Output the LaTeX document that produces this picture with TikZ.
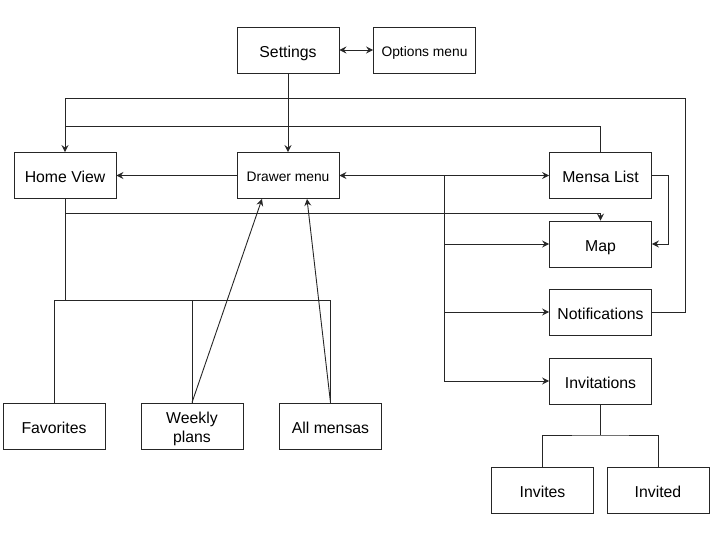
\documentclass[tikz,border=0pt]{standalone}
\usepackage{fontspec}
\setmainfont{Liberation Sans}
\usetikzlibrary{arrows.meta}

\begin{document}
\begin{tikzpicture}[x=1pt, y=-1pt,
    screen/.style={rectangle, draw=black!85, line width=0.9pt,
        minimum width=102pt, minimum height=46pt, inner sep=0pt,
        text centered, align=center, text=black,
        text height=14.6pt, text depth=0pt,
        font=\fontsize{15.8}{19}\selectfont},
    smallscreen/.style={screen, text height=13pt,
        font=\fontsize{13.8}{15}\selectfont},
    twoline/.style={screen, text height=, text depth=},
    link/.style={draw=black!85, line width=0.9pt,
        -{Stealth[length=7pt,width=7pt,inset=2.5pt]}},
    both/.style={link, {Stealth[length=7pt,width=7pt,inset=2.5pt]}-{Stealth[length=7pt,width=7pt,inset=2.5pt]}},
    tie/.style={draw=black!85, line width=0.9pt}]

\useasboundingbox (0,0) rectangle (720,540);

\node (settings) [screen] at (288,50) {Settings};
\node (optMenu) [smallscreen] at (424.5,50) {Options menu};
\node (homeView) [screen] at (65,175.5) {Home View};
\node (drawer) [smallscreen] at (288,175.5) {Drawer menu};
\node (mensaList) [screen] at (600.5,175.5) {Mensa List};
\node (map) [screen] at (600.5,244) {Map};
\node (notif) [screen] at (600.5,312) {Notifications};
\node (invitations) [screen] at (600.5,381) {Invitations};
\node (favorites) [screen] at (54,426) {Favorites};
\node (weekly) [twoline] at (192,426) {\rule{0pt}{17.5pt}Weekly\\plans};
\node (allMensas) [screen] at (330.5,426) {All mensas};
\node (invites) [screen] at (542.5,490) {Invites};
\node (invited) [screen] at (658,490) {Invited};

\coordinate (hub) at (444,175.5);

\draw [both] (settings) -- (optMenu);
\draw [link] (settings) -- (drawer);
\draw [link] (drawer) -- (homeView);

% loops back to the home view
\draw [link] (notif.east) -- ++(33,0) |- (homeView.north |- 0,98) -- (homeView.north);
\draw [tie] (mensaList.north) |- (homeView.north |- 0,126);

\draw [both] (drawer.east) -- (mensaList.west);
\draw [link] (hub) |- (map.west);
\draw [link] (hub) |- (notif.west);
\draw [link] (hub) |- (invitations.west);
\draw [link] (mensaList.east) -- ++(16,0) |- (map.east);
\draw [link] (homeView.south) -- ++(0,15) -| (map.north);

% home view children
\draw [tie] (homeView.south) -- (homeView.south |- 0,300);
\draw [tie] (favorites.north) |- (allMensas.north |- 0,300) -- (allMensas.north);
\draw [tie] (weekly.north) -- (weekly.north |- 0,300);
\draw [link] (weekly.north) -- ([xshift=-26pt]drawer.south);
\draw [link] (allMensas.north) -- ([xshift=19pt]drawer.south);

% invitations children
\draw [tie] (invitations.south) -- (invitations.south |- 0,435);
\draw [tie] (invites.north) |- (invitations.south |- 0,435) -| (invited.north);

\end{tikzpicture}
\end{document}
